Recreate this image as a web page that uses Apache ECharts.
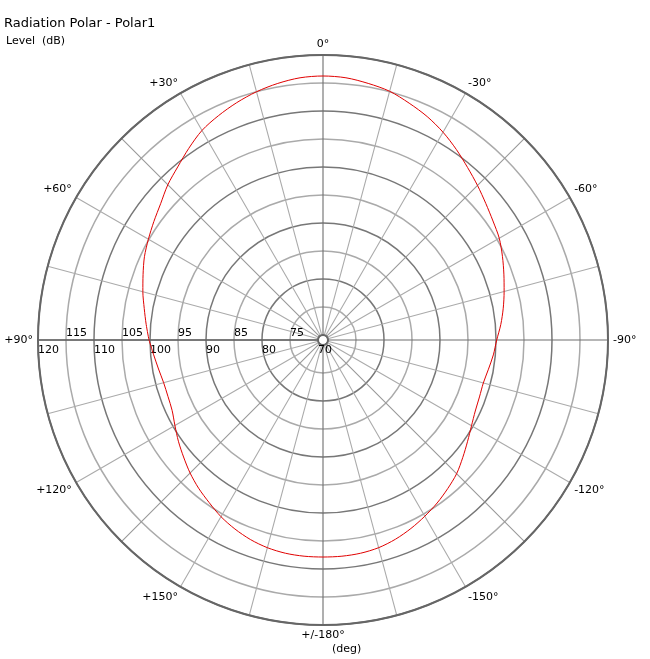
<!DOCTYPE html>
<html>
<head>
<meta charset="utf-8">
<script src="https://cdn.jsdelivr.net/npm/echarts@6/dist/echarts.min.js"></script>
<style>
html,body{margin:0;padding:0;background:#fff;}
#chart{width:650px;height:659px;}
</style>
</head>
<body>
<div id="chart"></div>
<script>
// Angles in degrees (0 = top, + = counter-clockwise / left, - = right)
var angleDeg = [-180,-175,-170,-165,-160,-155,-150,-145,-140,-135,-130,-125,-120,-115,-110,-105,-100,-95,
  -90,-85,-80,-75,-70,-65,-60,-55,-50,-45,-40,-35,-30,-25,-20,-15,-10,-5,
  0,5,10,15,20,25,30,35,40,45,50,55,60,65,70,75,80,85,
  90,95,100,105,110,115,120,125,130,135,140,145,150,155,160,165,170,175];
// Level in dB
var levelDb = [107.86,107.86,107.77,107.5,106.96,106.25,105.45,104.64,103.75,102.86,101.7,100.63,99.73,99.11,98.84,98.75,99.11,99.64,
  100.13,100.98,101.79,102.59,103.48,104.46,105.45,106.16,107.05,108.13,109.29,110.63,111.96,113.13,114.11,115.09,115.63,116.11,
  116.25,116.11,115.63,115.0,114.2,113.3,112.32,110.89,109.46,108.3,106.96,105.98,105.11,104.29,103.3,102.41,101.52,100.8,
  100.18,99.46,98.93,98.57,98.57,98.84,99.64,100.63,101.61,102.68,103.66,104.55,105.54,106.34,107.02,107.5,107.77,107.86];

var radiusMin = 70, radiusMax = 120, radiusStep = 5;
var angleStep = 15;

function toAxisValue(a){
  var v = ((a % 360) + 360) % 360;
  if (v < 90) v += 360;
  return v;
}
var pts = angleDeg.map(function(a, i){ return [levelDb[i], toAxisValue(a)]; });
pts.sort(function(p, q){ return p[1] - q[1]; });
pts.push([pts[0][0], pts[0][1] + 360]);

function angleLabel(v){
  if (v % 30 !== 0) return '';
  var a = v % 360;
  if (a > 180) a -= 360;
  if (a === 0) return '0°';
  if (a === 180) return '+/-180°';
  return (a > 0 ? '+' : '') + a + '°';
}

var chart = echarts.init(document.getElementById('chart'));
var font = 'DejaVu Sans, Verdana, sans-serif';
chart.setOption({
  backgroundColor: '#fff',
  animation: false,
  title: [
    {text: 'Radiation Polar - Polar1', left: -1, top: 12, textStyle: {fontFamily: font, fontSize: 13, fontWeight: 'normal', color: '#000'}},
    {text: 'Level  (dB)', left: 1, top: 31, textStyle: {fontFamily: font, fontSize: 11, fontWeight: 'normal', color: '#000'}},
    {text: '(deg)', left: 327, top: 639, textStyle: {fontFamily: font, fontSize: 11, fontWeight: 'normal', color: '#000'}}
  ],
  polar: {center: [323, 340], radius: [5, 285]},
  angleAxis: {
    type: 'value', min: 90, max: 450, interval: angleStep,
    startAngle: 180, clockwise: false,
    axisLine: {show: true, lineStyle: {color: '#666', width: 2}},
    axisTick: {show: false},
    axisLabel: {show: true, margin: 5, color: '#000', fontFamily: font, fontSize: 11, formatter: angleLabel},
    splitLine: {show: true, lineStyle: {color: ['#6e6e6e','#ababab','#ababab','#999999','#ababab','#ababab'], width: 1.1}}
  },
  radiusAxis: {
    type: 'value', min: radiusMin, max: radiusMax, interval: radiusStep,
    axisLine: {show: true, lineStyle: {color: '#666', width: 1.5}},
    axisTick: {show: false},
    axisLabel: {
      show: true, margin: 0, align: 'left', verticalAlign: 'middle', rotate: 0,
      color: '#000', fontFamily: font, fontSize: 11,
      formatter: function(v){ return ((v / 5) % 2 === 1) ? '{u|' + v + '}' : '{d|' + v + '}'; },
      rich: {
        u: {fontFamily: font, fontSize: 11, color: '#000', padding: [0, 0, 14, 0]},
        d: {fontFamily: font, fontSize: 11, color: '#000', padding: [21, 0, 0, 0]}
      }
    },
    splitLine: {show: true, lineStyle: {color: ['#777','#aaa'], width: 1.5}}
  },
  series: [{
    type: 'line', coordinateSystem: 'polar', data: pts,
    showSymbol: false, symbol: 'none', smooth: 0.3,
    lineStyle: {color: '#e00000', width: 1}, z: 5
  }]
});
</script>
</body>
</html>
